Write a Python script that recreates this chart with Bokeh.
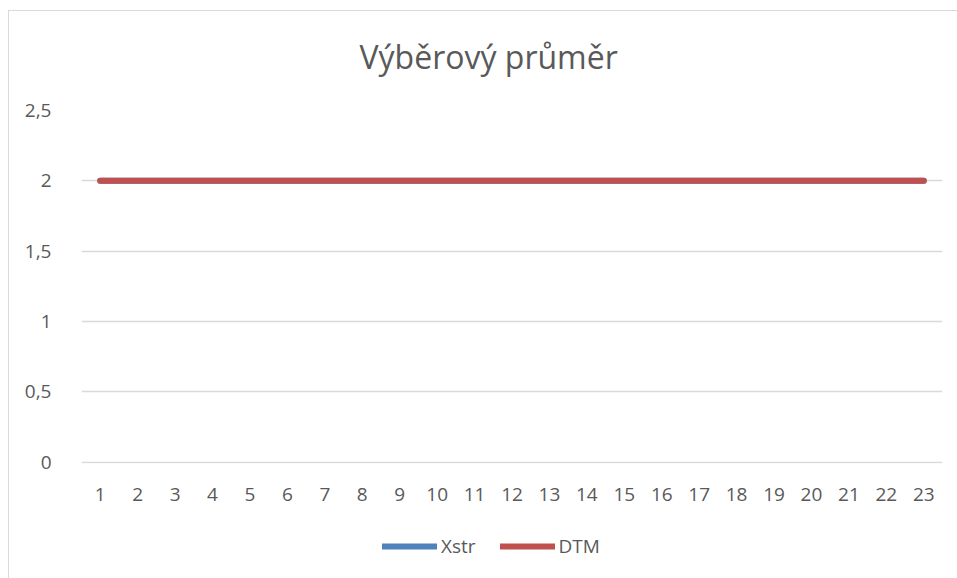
from bokeh.plotting import figure
from bokeh.models import FactorRange, Range1d, Legend, LegendItem, Title, FixedTicker
from bokeh.layouts import column
from bokeh.embed import file_html
from bokeh.resources import INLINE

categories = ["1", "2", "3", "4", "5", "6", "7", "8", "9", "10", "11", "12",
              "13", "14", "15", "16", "17", "18", "19", "20", "21", "22", "23"]
xstr = [2, 2, 2, 2, 2, 2, 2, 2, 2, 2, 2, 2, 2, 2, 2, 2, 2, 2, 2, 2, 2, 2, 2]
dtm = [2, 2, 2, 2, 2, 2, 2, 2, 2, 2, 2, 2, 2, 2, 2, 2, 2, 2, 2, 2, 2, 2, 2]
y_ticks = [0, 0.5, 1, 1.5, 2, 2.5]
y_tick_labels = ["0", "0,5", "1", "1,5", "2", "2,5"]
title_text = "Výběrový průměr"
series_names = ["Xstr", "DTM"]
colors = ["#4F81BD", "#C0504D"]

FONT = "Open Sans"
TXT = "#595959"

# main chart
p = figure(width=949, height=522,
           x_range=FactorRange(*categories, range_padding=0),
           y_range=Range1d(-0.008, 2.5),
           output_backend="svg", toolbar_location=None,
           min_border_left=72, min_border_right=16,
           min_border_top=0, min_border_bottom=58)
p.margin = (-12, 0, 0, 0)
p.outline_line_color = None
p.background_fill_color = "white"
p.border_fill_color = None

p.add_layout(Title(text=title_text, align="left", offset=278, standoff=66,
                   text_font=FONT, text_font_size="32px", text_font_style="normal",
                   text_color=TXT), "above")

p.line(x=categories, y=xstr, line_color=colors[0], line_width=6, line_cap="round")
p.line(x=categories, y=dtm, line_color=colors[1], line_width=6, line_cap="round")

p.xgrid.grid_line_color = None
p.ygrid.grid_line_color = "#D9D9D9"
p.ygrid.grid_line_width = 1.3

p.yaxis.ticker = FixedTicker(ticks=y_ticks)
p.yaxis.major_label_overrides = {t: l for t, l in zip(y_ticks, y_tick_labels)}
for ax in (p.xaxis[0], p.yaxis[0]):
    ax.axis_line_color = None
    ax.major_tick_line_color = None
    ax.minor_tick_line_color = None
    ax.major_label_text_font = FONT
    ax.major_label_text_font_size = "19px"
    ax.major_label_text_color = TXT
p.yaxis.major_label_standoff = 24
p.xaxis.major_label_standoff = 18
p.xaxis.major_label_orientation = "horizontal"

# legend strip (separate figure so the legend can sit anywhere below the chart);
# its lines lie outside its visible y range, only the legend glyphs show
pl = figure(width=949, height=58,
            x_range=FactorRange(*categories, range_padding=0),
            y_range=Range1d(10, 11),
            x_axis_location=None, y_axis_location=None,
            output_backend="svg", toolbar_location=None, min_border=0)
pl.outline_line_color = None
pl.border_fill_color = None
pl.background_fill_color = None
pl.grid.visible = False
l1 = pl.line(x=categories, y=xstr, line_color=colors[0], line_width=6, line_cap="round")
l2 = pl.line(x=categories, y=dtm, line_color=colors[1], line_width=6, line_cap="round")
legend = Legend(items=[LegendItem(label=series_names[0], renderers=[l1]),
                       LegendItem(label=series_names[1], renderers=[l2])],
                orientation="horizontal", location=(301, 20),
                glyph_width=55, glyph_height=20, label_standoff=4, spacing=24,
                padding=0, margin=0,
                label_text_font=FONT, label_text_font_size="19px",
                label_text_color=TXT,
                border_line_alpha=0, background_fill_alpha=0)
pl.add_layout(legend, "center")

lay = column(p, pl, spacing=0)
lay.styles = {"border-left": "1px solid #D9D9D9", "border-top": "1px solid #D9D9D9",
              "margin-top": "10px", "margin-left": "8px", "background": "white"}

open("out.html", "w").write(file_html(lay, INLINE))
